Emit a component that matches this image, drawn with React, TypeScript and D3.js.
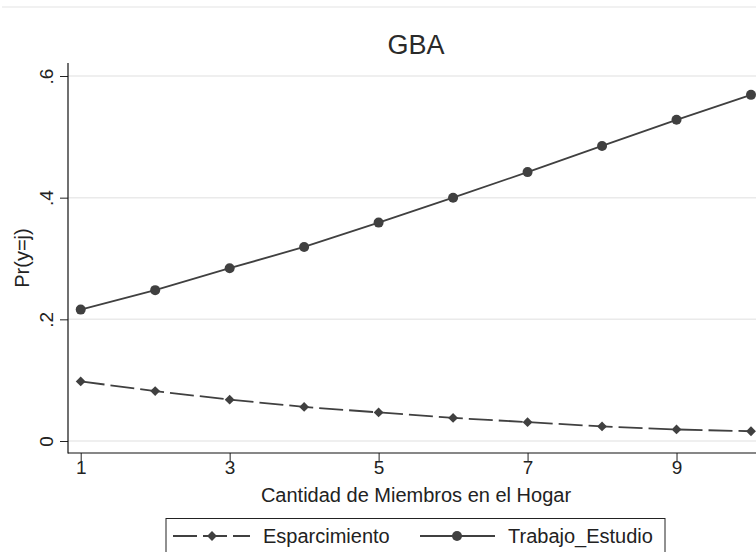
import React, { useEffect, useRef } from 'react';
import * as d3 from 'd3';

// Household size (x) and predicted probabilities per outcome
const miembros = [1, 2, 3, 4, 5, 6, 7, 8, 9, 10];
const esparcimiento = [0.098, 0.082, 0.068, 0.056, 0.047, 0.038, 0.031, 0.024, 0.019, 0.016];
const trabajoEstudio = [0.216, 0.248, 0.284, 0.319, 0.359, 0.400, 0.442, 0.485, 0.528, 0.569];
const xTicks = [1, 3, 5, 7, 9];
const yTicks = [0, 0.2, 0.4, 0.6];
const yTickLabels = ['0', '.2', '.4', '.6'];

const WIDTH = 756;
const HEIGHT = 552;
const FONT = '"Liberation Sans", Arial, sans-serif';
const INK = '#404040';

const App: React.FC = () => {
  const svgRef = useRef<SVGSVGElement>(null);

  useEffect(() => {
    if (!svgRef.current) return;
    const svg = d3.select(svgRef.current);
    svg.selectAll('*').remove();

    const plot = { left: 68, top: 63, bottom: 453, right: 770 };

    const x = d3.scaleLinear().domain([1, 10]).range([80.7, 751]);
    const y = d3.scaleLinear().domain([0, 0.6]).range([441, 76]);

    svg.append('rect').attr('width', WIDTH).attr('height', HEIGHT).attr('fill', '#fff');

    // faint outer frame line at top
    svg.append('line')
      .attr('x1', 2).attr('x2', WIDTH).attr('y1', 7).attr('y2', 7)
      .attr('stroke', '#ececec').attr('stroke-width', 1.5);

    // grid lines
    svg.append('g')
      .selectAll('line')
      .data(yTicks)
      .enter()
      .append('line')
      .attr('x1', plot.left).attr('x2', plot.right)
      .attr('y1', d => y(d)).attr('y2', d => y(d))
      .attr('stroke', '#eaeaea').attr('stroke-width', 1.5);

    // axes
    const yAxis = svg.append('g').attr('transform', `translate(${plot.left},0)`);
    yAxis.call(d3.axisLeft(y).tickValues(yTicks).tickSize(8).tickFormat((_, i) => yTickLabels[i]));
    yAxis.select('.domain').remove();
    yAxis.selectAll('.tick line').attr('stroke', '#222').attr('stroke-width', 1);
    yAxis.selectAll('.tick text')
      .attr('x', 0).attr('y', 0).attr('dy', 0)
      .attr('transform', 'translate(-15,0) rotate(-90)')
      .attr('text-anchor', 'middle')
      .style('font-family', FONT).style('font-size', '19px').attr('fill', '#222');

    const xAxis = svg.append('g').attr('transform', `translate(0,${plot.bottom})`);
    xAxis.call(d3.axisBottom(x).tickValues(xTicks).tickSize(8).tickFormat(d3.format('d')));
    xAxis.select('.domain').remove();
    xAxis.selectAll('.tick line').attr('stroke', '#222').attr('stroke-width', 1);
    xAxis.selectAll('.tick text')
      .attr('y', 0).attr('dy', 0)
      .attr('transform', 'translate(0,21)')
      .style('font-family', FONT).style('font-size', '19px').attr('fill', '#222');

    svg.append('line')
      .attr('x1', plot.left).attr('x2', plot.left)
      .attr('y1', plot.top).attr('y2', plot.bottom + 0.5)
      .attr('stroke', '#111').attr('stroke-width', 1.2);
    svg.append('line')
      .attr('x1', plot.left).attr('x2', plot.right)
      .attr('y1', plot.bottom).attr('y2', plot.bottom)
      .attr('stroke', '#111').attr('stroke-width', 1.2);

    // titles
    svg.append('text')
      .attr('x', 416).attr('y', 54)
      .attr('text-anchor', 'middle')
      .style('font-family', FONT).style('font-size', '27px').attr('fill', '#2a2a2a')
      .text('GBA');

    svg.append('text')
      .attr('x', 416).attr('y', 502)
      .attr('text-anchor', 'middle')
      .style('font-family', FONT).style('font-size', '20px').attr('fill', '#222')
      .text('Cantidad de Miembros en el Hogar');

    svg.append('text')
      .attr('transform', `translate(29,${(plot.top + plot.bottom) / 2}) rotate(-90)`)
      .attr('text-anchor', 'middle')
      .style('font-family', FONT).style('font-size', '20px').attr('fill', '#222')
      .text('Pr(y=j)');

    // series
    const line = d3.line<number>()
      .x((_, i) => x(miembros[i]))
      .y(d => y(d));

    const diamond = d3.symbol().type(d3.symbolDiamond2).size(62);

    svg.append('path')
      .datum(esparcimiento)
      .attr('d', line)
      .attr('fill', 'none')
      .attr('stroke', INK).attr('stroke-width', 1.8)
      .attr('stroke-dasharray', '24 6');

    svg.append('g')
      .selectAll('path')
      .data(esparcimiento)
      .enter()
      .append('path')
      .attr('d', diamond)
      .attr('transform', (d, i) => `translate(${x(miembros[i])},${y(d)})`)
      .attr('fill', INK);

    svg.append('path')
      .datum(trabajoEstudio)
      .attr('d', line)
      .attr('fill', 'none')
      .attr('stroke', INK).attr('stroke-width', 1.8);

    svg.append('g')
      .selectAll('circle')
      .data(trabajoEstudio)
      .enter()
      .append('circle')
      .attr('cx', (_, i) => x(miembros[i]))
      .attr('cy', d => y(d))
      .attr('r', 5)
      .attr('fill', INK);

    // legend
    const legend = svg.append('g');
    legend.append('rect')
      .attr('x', 166).attr('y', 518.5)
      .attr('width', 499).attr('height', 60)
      .attr('fill', '#fff').attr('stroke', '#222').attr('stroke-width', 1);

    const ly = 536;
    legend.append('line')
      .attr('x1', 173).attr('x2', 250).attr('y1', ly).attr('y2', ly)
      .attr('stroke', INK).attr('stroke-width', 1.8).attr('stroke-dasharray', '24 6');
    legend.append('path')
      .attr('d', diamond)
      .attr('transform', `translate(212,${ly})`)
      .attr('fill', INK);
    legend.append('text')
      .attr('x', 263).attr('y', ly + 7)
      .style('font-family', FONT).style('font-size', '20px').attr('fill', '#222')
      .text('Esparcimiento');

    legend.append('line')
      .attr('x1', 420).attr('x2', 495).attr('y1', ly).attr('y2', ly)
      .attr('stroke', INK).attr('stroke-width', 1.8);
    legend.append('circle')
      .attr('cx', 457).attr('cy', ly).attr('r', 5)
      .attr('fill', INK);
    legend.append('text')
      .attr('x', 508).attr('y', ly + 7)
      .style('font-family', FONT).style('font-size', '20px').attr('fill', '#222')
      .text('Trabajo_Estudio');
  }, []);

  return (
    <svg
      ref={svgRef}
      width={WIDTH}
      height={HEIGHT}
      style={{ position: 'absolute', left: 0, top: 0, display: 'block' }}
    />
  );
};

export default App;
